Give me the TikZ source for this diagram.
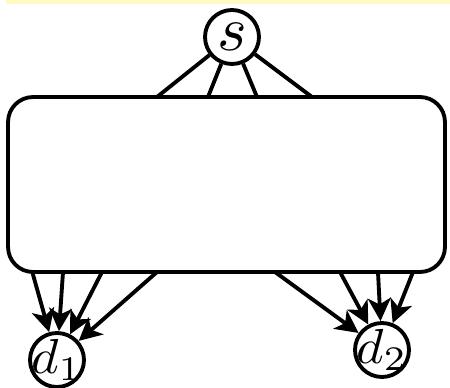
\documentclass[tikz,border=0pt]{standalone}
\usepackage{graphicx}
\usetikzlibrary{arrows.meta}
\definecolor{bandyellow}{RGB}{255,249,196}
\begin{document}
\begin{tikzpicture}[x=0.02cm,y=-0.02cm,
  vertex/.style={circle,draw,line width=2.2pt,minimum size=1.08cm,inner sep=0pt,fill=white},
  netbox/.style={draw,line width=2.2pt,rounded corners=0.5cm,minimum width=8.74cm,minimum height=3.5cm,inner sep=0pt},
  link/.style={line width=2.2pt},
  flow/.style={line width=2.2pt,-{Stealth[length=13pt,width=13pt,inset=3.5pt]}}]
\useasboundingbox (0,0) rectangle (450,388);
\fill[bandyellow] (6,0) rectangle (450,4);
\node[netbox] (box) at (226.5,184.5) {};
\node[vertex,label={[inner sep=0pt]center:\scalebox{3.6}{$s$}}] (s) at (232,37) {};
\node[vertex,label={[inner sep=0pt]center:\scalebox{3.0}[2.8]{$d_1$}}] (d1) at (57,360) {};
\node[vertex,label={[inner sep=0pt]center:\scalebox{3.0}[2.8]{$d_2$}}] (d2) at (382,350) {};
% top attachment points
\coordinate (t1) at (157,97);
\coordinate (t2) at (208,97);
\coordinate (t3) at (257,97);
\coordinate (t4) at (312,97);
\draw[link] (s) -- (t1);
\draw[link] (s) -- (t2);
\draw[link] (s) -- (t3);
\draw[link] (s) -- (t4);
% bottom attachment points
\coordinate (a1) at (32,271);
\coordinate (a2) at (63,272);
\coordinate (a3) at (102,272);
\coordinate (a4) at (157,272);
\coordinate (b1) at (275,272);
\coordinate (b2) at (340,272);
\coordinate (b3) at (378,272);
\coordinate (b4) at (413,272);
\draw[flow] (a1) -- (d1);
\draw[flow] (a2) -- (d1);
\draw[flow] (a3) -- (d1);
\draw[flow] (a4) -- (d1);
\draw[flow] (b1) -- (d2);
\draw[flow] (b2) -- (d2);
\draw[flow] (b3) -- (d2);
\draw[flow] (b4) -- (d2);
\end{tikzpicture}
\end{document}
